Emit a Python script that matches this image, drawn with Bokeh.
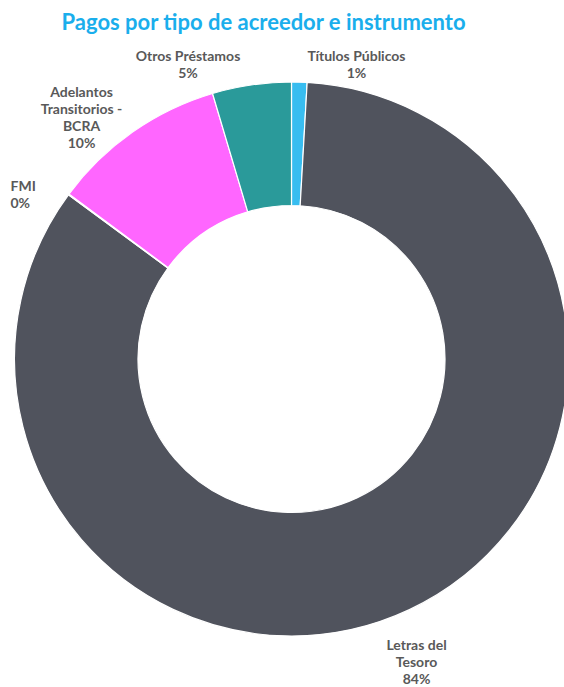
import math
from bokeh.plotting import figure
from bokeh.models import ColumnDataSource, Range1d
from bokeh.core.properties import value
from bokeh.embed import file_html
from bokeh.resources import INLINE

# ---- data ----
categories = ["Títulos Públicos", "Letras del Tesoro", "FMI",
              "Adelantos Transitorios - BCRA", "Otros Préstamos"]
label_lines = [["Títulos Públicos"], ["Letras del", "Tesoro"], ["FMI"],
               ["Adelantos", "Transitorios -", "BCRA"], ["Otros Préstamos"]]
values = [0.9, 84.2, 0.05, 10.25, 4.6]
colors = ["#38BDF0", "#50535D", "#A5A5A5", "#FF66FF", "#2A9A9A"]
title_text = "Pagos por tipo de acreedor e instrumento"

# ---- layout (page pixel coordinates, y from top) ----
W, H = 564, 687
cx, cy_top = 291, 358.5
r_out, r_in = 277, 153.5
label_pos = [(356, 55), (416, 644), (10, 185), (81, 91), (187.5, 55)]
label_align = ["center", "center", "left", "center", "center"]
line_step = 17

total = sum(values)
starts, ends, pcts = [], [], []
ang = math.pi / 2
for v in values:
    a = v / total * 2 * math.pi
    starts.append(ang - a)
    ends.append(ang)
    ang -= a
    pcts.append(f"{round(v / total * 100)}%")

src = ColumnDataSource(dict(cat=categories, start=starts, end=ends, color=colors))

p = figure(width=W, height=H, output_backend="svg", toolbar_location=None,
           x_range=Range1d(0, W), y_range=Range1d(0, H),
           min_border=0, outline_line_color=None)
p.axis.visible = False
p.grid.visible = False
p.background_fill_color = "white"
p.border_fill_color = "white"

p.annular_wedge(x=cx, y=H - cy_top, inner_radius=r_in, outer_radius=r_out,
                start_angle="start", end_angle="end", direction="anticlock",
                fill_color="color", line_color="white", line_width=1.2,
                source=src)

# title
p.text(x=[263.5], y=[H - 21], text=[title_text],
       text_font=value("Lato"), text_font_style="bold", text_font_size="22px",
       text_color="#1AAEEC", text_align="center", text_baseline="middle")

# labels
for lines, pct, (lx, ly), al in zip(label_lines, pcts, label_pos, label_align):
    all_lines = lines + [pct]
    xs = [lx] * len(all_lines)
    ys = [H - (ly + i * line_step) for i in range(len(all_lines))]
    p.text(x=xs, y=ys, text=all_lines,
           text_font=value("Lato"), text_font_style="bold", text_font_size="14px",
           text_color="#595959", text_align=al, text_baseline="middle")

open("out.html", "w").write(file_html(p, INLINE))
